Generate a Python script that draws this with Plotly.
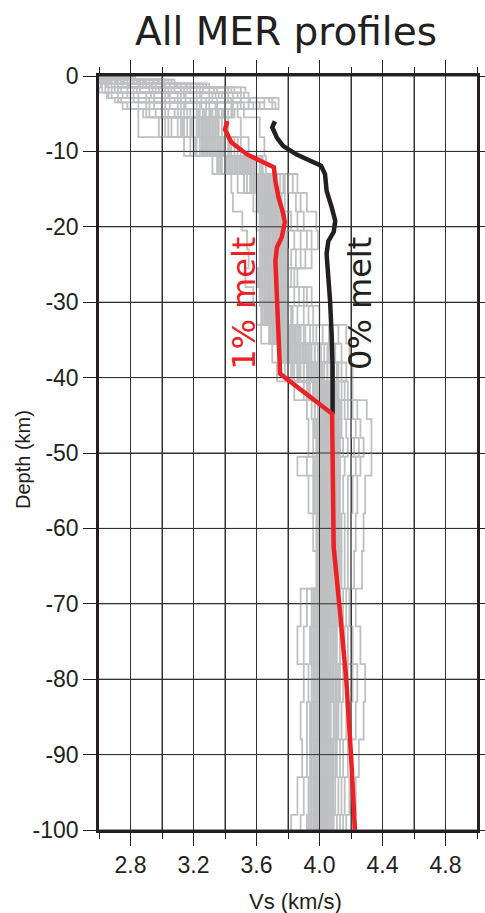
import plotly.graph_objects as go

# ---------------- data ----------------
# layer boundaries (km, positive down)
layer_bounds = [0, 0.5, 1.0, 1.5, 2.2, 2.9, 3.5, 4.4, 5.5, 8.1, 10.6, 13, 15.5, 18, 20.5,
                23, 25.5, 28, 30.5, 33, 35.5, 38, 40.5, 43, 45.5, 48, 50.5, 53, 58, 63,
                68, 73, 78, 83, 88, 93, 98, 100]

# Vs (km/s) of each layer, one column per MER profile (first group)
layer_vs_a = [
    [2.60, 2.83, 2.62, 2.65, 2.68, 2.70, 2.72, 2.75, 2.78, 2.80, 2.64, 2.66, 2.74, 2.69, 2.77, 2.81, 2.61, 2.63, 2.67, 2.71, 2.73, 2.76, 2.79, 2.82, 2.62, 2.66],
    [2.60, 3.08, 3.00, 2.95, 2.90, 2.85, 2.80, 2.75, 2.70, 2.65, 2.68, 2.78, 2.88, 2.98, 3.04, 2.72, 2.62, 2.66, 2.74, 2.82, 2.92, 2.97, 3.02, 3.06, 2.64, 2.86],
    [2.62, 3.30, 2.70, 2.78, 2.85, 2.92, 3.00, 3.08, 3.15, 3.22, 2.75, 2.88, 2.96, 3.05, 3.12, 3.26, 2.64, 2.68, 2.80, 2.90, 3.02, 3.10, 3.18, 3.28, 2.66, 2.94],
    [2.60, 3.53, 3.40, 3.30, 3.22, 3.12, 3.02, 2.92, 2.82, 2.72, 2.78, 2.98, 3.08, 3.18, 3.35, 3.46, 2.64, 2.70, 2.86, 2.96, 3.06, 3.16, 3.26, 3.44, 3.50, 2.68],
    [2.65, 3.55, 2.75, 2.85, 2.95, 3.05, 3.15, 3.25, 3.32, 3.42, 2.80, 3.00, 3.10, 3.20, 3.38, 3.48, 2.68, 2.78, 2.90, 3.02, 3.12, 3.22, 3.30, 3.36, 3.45, 3.52],
    [2.70, 3.74, 3.50, 3.40, 3.30, 3.20, 3.10, 3.00, 2.90, 2.80, 2.85, 3.05, 3.15, 3.25, 3.45, 3.60, 2.74, 2.95, 3.08, 3.18, 3.28, 3.35, 3.42, 3.55, 3.65, 3.70],
    [2.75, 3.74, 2.85, 2.95, 3.05, 3.15, 3.25, 3.35, 3.45, 3.55, 2.90, 3.10, 3.20, 3.30, 3.50, 3.65, 2.78, 3.00, 3.12, 3.22, 3.28, 3.40, 3.48, 3.58, 3.62, 3.70],
    [2.85, 3.52, 3.44, 3.38, 3.32, 3.24, 3.16, 3.08, 3.00, 2.92, 2.96, 3.12, 3.20, 3.28, 3.36, 3.48, 2.88, 3.04, 3.14, 3.22, 3.26, 3.30, 3.34, 3.40, 3.42, 3.46],
    [2.85, 3.62, 2.98, 3.06, 3.12, 3.18, 3.24, 3.28, 3.32, 3.36, 3.10, 3.20, 3.26, 3.30, 3.40, 3.50, 3.02, 3.14, 3.16, 3.22, 3.25, 3.27, 3.29, 3.31, 3.34, 3.38],
    [3.14, 3.65, 3.46, 3.42, 3.38, 3.34, 3.30, 3.26, 3.22, 3.18, 3.24, 3.28, 3.32, 3.36, 3.44, 3.55, 3.20, 3.25, 3.27, 3.29, 3.31, 3.33, 3.35, 3.37, 3.40, 3.50],
    [3.32, 3.66, 3.35, 3.38, 3.42, 3.45, 3.48, 3.52, 3.55, 3.58, 3.40, 3.44, 3.47, 3.50, 3.54, 3.62, 3.37, 3.41, 3.43, 3.46, 3.49, 3.51, 3.53, 3.56, 3.60, 3.64],
    [3.44, 3.86, 3.72, 3.69, 3.66, 3.63, 3.60, 3.56, 3.52, 3.48, 3.58, 3.62, 3.65, 3.68, 3.75, 3.80, 3.54, 3.59, 3.61, 3.64, 3.67, 3.70, 3.71, 3.73, 3.77, 3.83],
    [3.45, 3.92, 3.58, 3.61, 3.64, 3.66, 3.68, 3.70, 3.72, 3.74, 3.62, 3.65, 3.67, 3.71, 3.78, 3.85, 3.60, 3.63, 3.65, 3.67, 3.69, 3.70, 3.71, 3.73, 3.76, 3.88],
    [3.51, 3.98, 3.76, 3.74, 3.72, 3.70, 3.68, 3.66, 3.63, 3.60, 3.64, 3.67, 3.69, 3.73, 3.82, 3.90, 3.62, 3.65, 3.68, 3.70, 3.71, 3.72, 3.73, 3.75, 3.78, 3.86],
    [3.54, 3.99, 3.62, 3.65, 3.67, 3.69, 3.71, 3.73, 3.75, 3.77, 3.66, 3.68, 3.72, 3.74, 3.84, 3.92, 3.64, 3.66, 3.68, 3.70, 3.72, 3.74, 3.76, 3.79, 3.88, 3.95],
    [3.55, 3.95, 3.78, 3.75, 3.73, 3.71, 3.69, 3.67, 3.65, 3.62, 3.66, 3.68, 3.72, 3.74, 3.82, 3.88, 3.64, 3.67, 3.69, 3.70, 3.72, 3.74, 3.76, 3.80, 3.85, 3.91],
    [3.53, 3.86, 3.60, 3.63, 3.66, 3.68, 3.70, 3.72, 3.74, 3.76, 3.64, 3.67, 3.69, 3.73, 3.79, 3.82, 3.62, 3.65, 3.67, 3.69, 3.71, 3.72, 3.75, 3.77, 3.80, 3.84],
    [3.58, 3.95, 3.78, 3.75, 3.73, 3.71, 3.69, 3.67, 3.65, 3.62, 3.66, 3.68, 3.72, 3.74, 3.84, 3.90, 3.64, 3.67, 3.69, 3.70, 3.72, 3.74, 3.76, 3.80, 3.87, 3.92],
    [3.60, 4.00, 3.63, 3.66, 3.68, 3.70, 3.72, 3.75, 3.77, 3.80, 3.67, 3.69, 3.73, 3.76, 3.86, 3.93, 3.65, 3.68, 3.70, 3.71, 3.74, 3.76, 3.78, 3.83, 3.90, 3.96],
    [3.63, 4.17, 3.90, 3.86, 3.83, 3.80, 3.77, 3.74, 3.71, 3.68, 3.72, 3.76, 3.79, 3.84, 3.98, 4.06, 3.70, 3.73, 3.75, 3.78, 3.81, 3.85, 3.88, 3.94, 4.02, 4.12],
    [3.70, 4.19, 3.75, 3.78, 3.81, 3.84, 3.87, 3.90, 3.93, 3.97, 3.79, 3.83, 3.86, 3.91, 4.03, 4.10, 3.77, 3.80, 3.85, 3.88, 3.92, 3.95, 3.99, 4.06, 4.14, 4.00],
    [3.73, 4.21, 4.05, 4.01, 3.98, 3.95, 3.92, 3.88, 3.84, 3.80, 3.86, 3.90, 3.94, 3.99, 4.08, 4.14, 3.82, 3.87, 3.92, 3.96, 4.00, 4.03, 4.07, 4.11, 4.17, 3.78],
    [3.84, 4.21, 3.90, 3.94, 3.98, 4.01, 4.03, 4.05, 4.07, 4.10, 3.96, 4.00, 4.02, 4.06, 4.12, 4.16, 3.92, 3.96, 3.99, 4.02, 4.04, 4.06, 4.08, 4.11, 4.14, 4.18],
    [3.92, 4.30, 4.14, 4.11, 4.09, 4.07, 4.05, 4.03, 4.00, 3.97, 4.02, 4.04, 4.06, 4.10, 4.18, 4.24, 3.95, 3.99, 4.02, 4.04, 4.06, 4.08, 4.10, 4.13, 4.16, 4.21],
    [3.93, 4.33, 3.98, 4.01, 4.03, 4.05, 4.07, 4.09, 4.11, 4.14, 4.02, 4.04, 4.08, 4.12, 4.20, 4.26, 3.96, 4.00, 4.02, 4.04, 4.06, 4.08, 4.10, 4.13, 4.17, 4.23],
    [3.93, 4.33, 4.15, 4.12, 4.09, 4.07, 4.05, 4.03, 4.01, 3.99, 4.02, 4.04, 4.08, 4.11, 4.22, 4.28, 3.96, 4.00, 4.02, 4.04, 4.06, 4.08, 4.10, 4.13, 4.18, 4.25],
    [3.86, 4.33, 3.96, 4.00, 4.02, 4.04, 4.06, 4.08, 4.10, 4.13, 4.01, 4.03, 4.07, 4.11, 4.20, 4.26, 3.92, 3.98, 4.01, 4.03, 4.05, 4.07, 4.09, 4.12, 4.16, 4.23],
    [3.93, 4.29, 4.13, 4.10, 4.08, 4.06, 4.04, 4.02, 4.00, 3.98, 4.01, 4.03, 4.07, 4.11, 4.18, 4.24, 3.96, 3.99, 4.01, 4.03, 4.05, 4.07, 4.09, 4.12, 4.15, 4.21],
    [3.96, 4.28, 3.99, 4.01, 4.03, 4.05, 4.07, 4.09, 4.11, 4.14, 4.02, 4.04, 4.08, 4.12, 4.18, 4.23, 3.98, 4.00, 4.02, 4.04, 4.06, 4.08, 4.10, 4.13, 4.16, 4.20],
    [3.98, 4.27, 4.14, 4.11, 4.09, 4.07, 4.05, 4.03, 4.02, 4.00, 4.01, 4.04, 4.08, 4.12, 4.18, 4.22, 3.99, 4.01, 4.02, 4.04, 4.06, 4.08, 4.10, 4.13, 4.16, 4.20],
    [3.88, 4.23, 3.95, 3.99, 4.01, 4.03, 4.05, 4.07, 4.09, 4.12, 4.00, 4.02, 4.06, 4.10, 4.15, 4.19, 3.92, 3.97, 4.00, 4.02, 4.04, 4.06, 4.08, 4.11, 4.13, 4.17],
    [3.86, 4.26, 4.11, 4.08, 4.06, 4.04, 4.02, 4.00, 3.98, 3.94, 3.99, 4.01, 4.05, 4.09, 4.16, 4.21, 3.90, 3.96, 3.99, 4.01, 4.03, 4.05, 4.07, 4.10, 4.13, 4.18],
    [3.90, 4.29, 3.95, 3.99, 4.01, 4.03, 4.05, 4.07, 4.10, 4.13, 4.00, 4.02, 4.06, 4.11, 4.18, 4.24, 3.93, 3.97, 4.00, 4.02, 4.04, 4.06, 4.08, 4.12, 4.15, 4.21],
    [3.88, 4.28, 4.12, 4.09, 4.06, 4.04, 4.02, 4.00, 3.98, 3.94, 3.99, 4.01, 4.05, 4.10, 4.17, 4.23, 3.92, 3.96, 3.99, 4.01, 4.03, 4.05, 4.07, 4.11, 4.14, 4.20],
    [3.89, 4.25, 3.94, 3.98, 4.00, 4.02, 4.04, 4.06, 4.08, 4.11, 3.99, 4.01, 4.05, 4.09, 4.15, 4.20, 3.92, 3.96, 3.99, 4.01, 4.03, 4.05, 4.07, 4.10, 4.13, 4.18],
    [3.86, 4.23, 4.10, 4.07, 4.05, 4.03, 4.01, 3.99, 3.97, 3.93, 3.98, 4.00, 4.04, 4.08, 4.14, 4.19, 3.90, 3.95, 3.98, 4.00, 4.02, 4.04, 4.06, 4.09, 4.12, 4.16],
    [3.82, 4.21, 3.92, 3.96, 3.98, 4.00, 4.02, 4.04, 4.06, 4.09, 3.97, 3.99, 4.03, 4.07, 4.13, 4.17, 3.88, 3.94, 3.97, 3.99, 4.01, 4.03, 4.05, 4.08, 4.11, 4.15],
]

# second group of MER profiles (same layering)
layer_vs_b = [
    [2.60, 2.61, 2.63, 2.64, 2.66, 2.68, 2.70, 2.72, 2.74, 2.78],
    [2.61, 2.63, 2.67, 2.71, 2.76, 2.80, 2.84, 2.89, 2.94, 3.01],
    [2.61, 2.65, 2.72, 2.79, 2.86, 2.93, 3.01, 3.09, 3.16, 3.24],
    [2.62, 2.66, 2.74, 2.84, 2.94, 3.04, 3.14, 3.24, 3.33, 3.42],
    [2.66, 2.72, 2.82, 2.93, 3.04, 3.14, 3.24, 3.34, 3.40, 3.50],
    [2.72, 2.82, 2.92, 3.02, 3.12, 3.22, 3.32, 3.44, 3.56, 3.68],
    [2.80, 2.92, 3.02, 3.14, 3.24, 3.34, 3.44, 3.52, 3.60, 3.72],
    [2.90, 3.02, 3.10, 3.18, 3.23, 3.27, 3.31, 3.35, 3.39, 3.45],
    [3.04, 3.13, 3.19, 3.23, 3.26, 3.28, 3.30, 3.33, 3.35, 3.42],
    [3.21, 3.26, 3.28, 3.30, 3.32, 3.34, 3.36, 3.39, 3.43, 3.48],
    [3.36, 3.40, 3.44, 3.47, 3.50, 3.52, 3.54, 3.57, 3.59, 3.63],
    [3.52, 3.57, 3.60, 3.62, 3.64, 3.66, 3.68, 3.70, 3.72, 3.78],
    [3.61, 3.62, 3.64, 3.66, 3.67, 3.68, 3.69, 3.71, 3.72, 3.74],
    [3.63, 3.64, 3.66, 3.67, 3.69, 3.70, 3.71, 3.72, 3.74, 3.77],
    [3.63, 3.65, 3.67, 3.68, 3.70, 3.71, 3.73, 3.74, 3.76, 3.78],
    [3.63, 3.65, 3.66, 3.68, 3.70, 3.71, 3.73, 3.75, 3.77, 3.79],
    [3.61, 3.63, 3.65, 3.67, 3.68, 3.70, 3.71, 3.73, 3.75, 3.78],
    [3.63, 3.65, 3.67, 3.68, 3.70, 3.71, 3.73, 3.75, 3.77, 3.79],
    [3.64, 3.66, 3.68, 3.70, 3.71, 3.73, 3.75, 3.77, 3.79, 3.82],
    [3.69, 3.72, 3.74, 3.76, 3.79, 3.82, 3.84, 3.87, 3.91, 3.96],
    [3.76, 3.79, 3.82, 3.85, 3.89, 3.91, 3.94, 3.97, 4.01, 4.05],
    [3.83, 3.86, 3.90, 3.93, 3.97, 4.00, 4.02, 4.05, 4.09, 4.12],
    [3.93, 3.97, 4.00, 4.01, 4.03, 4.04, 4.05, 4.07, 4.09, 4.12],
    [3.97, 4.00, 4.01, 4.03, 4.04, 4.05, 4.07, 4.08, 4.10, 4.12],
    [3.97, 3.99, 4.01, 4.03, 4.04, 4.05, 4.06, 4.07, 4.09, 4.11],
    [3.98, 4.00, 4.01, 4.03, 4.04, 4.05, 4.06, 4.07, 4.09, 4.11],
    [3.97, 3.99, 4.00, 4.02, 4.03, 4.04, 4.06, 4.07, 4.08, 4.10],
    [3.97, 3.99, 4.00, 4.02, 4.03, 4.04, 4.05, 4.07, 4.08, 4.10],
    [3.99, 4.00, 4.01, 4.03, 4.04, 4.05, 4.06, 4.07, 4.09, 4.11],
    [3.99, 4.00, 4.01, 4.03, 4.04, 4.05, 4.06, 4.07, 4.09, 4.11],
    [3.96, 3.98, 3.99, 4.01, 4.02, 4.03, 4.04, 4.05, 4.07, 4.09],
    [3.95, 3.97, 3.99, 4.00, 4.02, 4.03, 4.04, 4.05, 4.07, 4.09],
    [3.96, 3.98, 3.99, 4.01, 4.02, 4.03, 4.04, 4.05, 4.07, 4.09],
    [3.95, 3.97, 3.99, 4.00, 4.02, 4.03, 4.04, 4.05, 4.07, 4.09],
    [3.95, 3.97, 3.98, 4.00, 4.01, 4.02, 4.03, 4.05, 4.06, 4.08],
    [3.94, 3.96, 3.98, 3.99, 4.01, 4.02, 4.03, 4.04, 4.06, 4.08],
    [3.93, 3.95, 3.97, 3.99, 4.00, 4.01, 4.02, 4.04, 4.05, 4.07],
]

# 1% melt model
melt1_vs = [3.415, 3.40, 3.44, 3.54, 3.65, 3.71, 3.72, 3.74, 3.77, 3.78, 3.76, 3.73, 3.72,
            3.73, 3.74, 3.75, 4.08, 4.085, 4.09, 4.13, 4.17, 4.20, 4.225]
melt1_depth = [-6.0, -7.1, -8.8, -10.4, -11.5, -12.1, -13.9, -16.1, -18.3, -19.4, -21.4, -22.7, -24.5,
               -29.8, -34.2, -39.5, -44.8, -55.0, -62.5, -71.0, -80.1, -90.0, -100.0]

# 0% melt model
melt0_vs = [3.717, 3.70, 3.73, 3.77, 3.855, 3.94, 4.01, 4.035, 4.045, 4.077, 4.10, 4.09, 4.056,
            4.045, 4.056, 4.067, 4.077, 4.083, 4.083]
melt0_depth = [-6.0, -6.8, -8.2, -9.3, -10.4, -11.3, -11.9, -13.0, -15.2, -17.4, -19.2, -20.7, -21.9,
               -23.6, -26.3, -29.8, -34.2, -38.6, -44.8]

x_range = [2.6, 5.0]
y_range = [-100, 0]
x_tickvals = [2.8, 3.2, 3.6, 4.0, 4.4, 4.8]
x_ticktext = ["2.8", "3.2", "3.6", "4.0", "4.4", "4.8"]
x_gridvals = [2.8, 3.0, 3.2, 3.4, 3.6, 3.8, 4.0, 4.2, 4.4, 4.6, 4.8]
y_tickvals = [0, -10, -20, -30, -40, -50, -60, -70, -80, -90, -100]
y_ticktext = ["0", "-10", "-20", "-30", "-40", "-50", "-60", "-70", "-80", "-90", "-100"]

# ---------------- figure ----------------
W, H = 485, 913
ML, MR, MT, MB = 99, 8, 76, 83
PW, PH = W - ML - MR, H - MT - MB
GRID = "#333333"

fig = go.Figure()


def add_profiles(table):
    for j in range(len(table[0])):
        xs, ys = [], []
        for i, row in enumerate(table):
            v = row[j]
            xs += [v, v]
            ys += [-layer_bounds[i], -layer_bounds[i + 1]]
        fig.add_trace(go.Scatter(x=xs, y=ys, mode="lines",
                                 line=dict(color="#bfc0c2", width=1.8),
                                 hoverinfo="skip", showlegend=False))


add_profiles(layer_vs_a)
add_profiles(layer_vs_b)

# grid drawn above the grey profiles (as in the original figure)
gx, gy = [], []
for yv in y_tickvals:
    gx += [x_range[0], x_range[1], None]
    gy += [yv, yv, None]
for xv in x_gridvals:
    gx += [xv, xv, None]
    gy += [y_range[0], y_range[1], None]
fig.add_trace(go.Scatter(x=gx, y=gy, mode="lines", line=dict(color=GRID, width=1),
                         hoverinfo="skip", showlegend=False))

fig.add_trace(go.Scatter(x=melt0_vs, y=melt0_depth, mode="lines",
                         line=dict(color="#231f20", width=4.5), showlegend=False))
fig.add_trace(go.Scatter(x=melt1_vs, y=melt1_depth, mode="lines",
                         line=dict(color="#ed2024", width=4.5), showlegend=False))

fig.add_annotation(x=3.52, y=-30.1, xref="x", yref="y", text="1% melt", textangle=-90,
                   showarrow=False, font=dict(family="DejaVu Sans", size=32, color="#ed2024"))
fig.add_annotation(x=4.257, y=-30.1, xref="x", yref="y", text="0% melt", textangle=-90,
                   showarrow=False, font=dict(family="DejaVu Sans", size=32, color="#231f20"))

# axis titles placed in pixel terms relative to the plot area
fig.add_annotation(x=(23 - ML) / PW, y=(H - MB - 460) / PH, xref="paper", yref="paper",
                   text="Depth (km)", textangle=-90, showarrow=False,
                   xanchor="center", yanchor="middle",
                   font=dict(family="Liberation Sans, Arial", size=20, color="#231f20"))
fig.add_annotation(x=(295 - ML) / PW, y=(H - MB - 901) / PH, xref="paper", yref="paper",
                   text="Vs (km/s)", showarrow=False, xanchor="center", yanchor="middle",
                   font=dict(family="Liberation Sans, Arial", size=22, color="#231f20"))

fig.update_layout(
    width=W, height=H,
    margin=dict(l=ML, r=MR, t=MT, b=MB),
    plot_bgcolor="white", paper_bgcolor="white",
    title=dict(text="All MER profiles", x=286 / W, xref="container", xanchor="center",
               y=1 - 31 / H, yref="container", yanchor="middle",
               font=dict(family="DejaVu Sans", size=39, color="#231f20")),
    font=dict(family="Liberation Sans, Arial", color="#231f20"),
)

axis_common = dict(showline=True, linecolor="#231f20", linewidth=2.5, mirror="ticks",
                   ticks="outside", ticklen=13, tickwidth=1.3, tickcolor="#231f20",
                   showgrid=True, gridcolor=GRID, gridwidth=1, zeroline=False,
                   automargin=False,
                   tickfont=dict(family="Liberation Sans, Arial", size=23, color="#231f20"))

fig.update_xaxes(range=x_range, tickmode="array", tickvals=x_tickvals, ticktext=x_ticktext,
                 minor=dict(dtick=0.2, tick0=2.6, ticklen=6, tickcolor="#231f20", showgrid=True,
                            gridcolor=GRID, gridwidth=1, ticks="outside"),
                 **axis_common)
fig.update_yaxes(range=y_range, tickmode="array", tickvals=y_tickvals, ticktext=y_ticktext,
                 **axis_common)

fig.write_html("out.html")
